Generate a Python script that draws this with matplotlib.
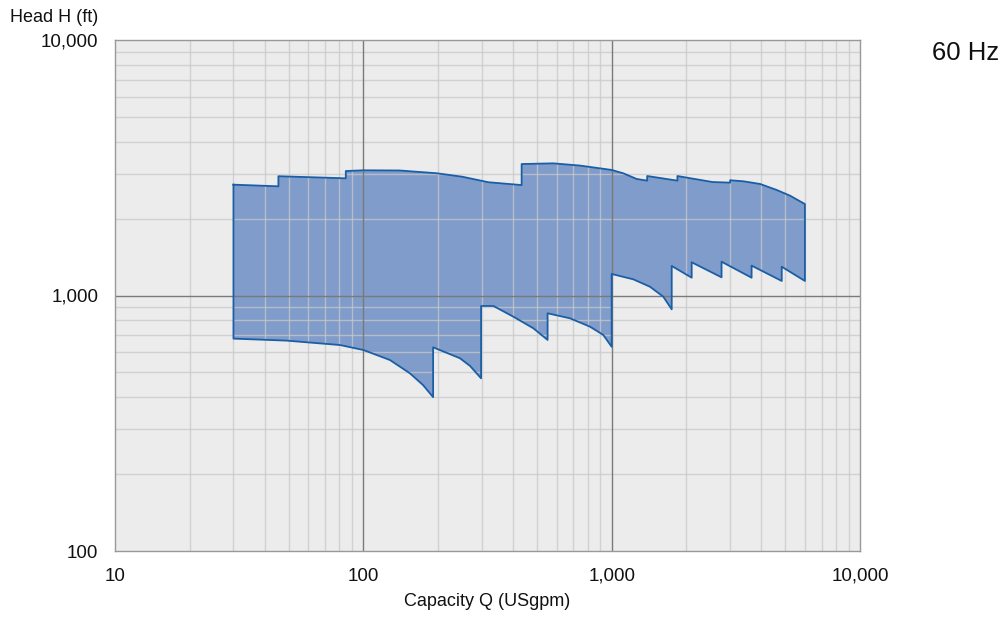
import matplotlib
matplotlib.use("Agg")
import matplotlib.pyplot as plt
from matplotlib.ticker import FixedLocator, NullFormatter, FixedFormatter

plt.rcParams['font.family'] = ['Liberation Sans', 'DejaVu Sans']

# Upper boundary of the operating range (left -> right)
top_q = [30, 45.5, 45.5, 85, 85, 100, 140, 197, 250, 319, 434, 434, 582, 745, 1000, 1114, 1261, 1390, 1390,
         1840, 1840, 2550, 3000, 3000, 3390, 3960, 4620, 5230, 6000]
top_h = [2715, 2675, 2930, 2875, 3070, 3090, 3085, 3010, 2917, 2775, 2705, 3270, 3290, 3225, 3100, 3008, 2858,
         2815, 2935, 2815, 2935, 2780, 2765, 2825, 2799, 2732, 2588, 2458, 2280]

# Lower boundary of the operating range (right -> left)
bot_q = [6000, 4840, 4840, 3660, 3660, 2770, 2770, 2100, 2100, 1745, 1745, 1614, 1427, 1222, 1000, 1000,
         925, 818, 680, 552, 552, 484, 402, 334, 298, 298, 269, 245, 191, 191, 174, 154, 128, 100, 80.5, 49, 30]
bot_h = [1140, 1296, 1140, 1309, 1174, 1356, 1178, 1349, 1174, 1305, 883, 989, 1082, 1157, 1214, 630,
         701, 755, 814, 852, 670, 744, 826, 910, 910, 474, 530, 568, 627, 400, 446, 496, 559, 612, 640, 666, 678]

x_ticks = [10, 100, 1000, 10000]
x_labels = ["10", "100", "1,000", "10,000"]
y_ticks = [100, 1000, 10000]
y_labels = ["100", "1,000", "10,000"]

fig = plt.figure(figsize=(10.06, 6.17), dpi=100)
ax = fig.add_axes([115/1006, 1-551/617, (860-115)/1006, (551-40)/617])
ax.set_facecolor('#ececec')
ax.set_xscale('log')
ax.set_yscale('log')
ax.set_xlim(10, 10000)
ax.set_ylim(100, 10000)

poly_q = top_q + bot_q
poly_h = top_h + bot_h
ax.fill(poly_q, poly_h, facecolor='#809cca', edgecolor='none', zorder=1)

# grid
minor_x = [m * d for d in (10, 100, 1000) for m in range(2, 10)]
minor_y = [m * d for d in (100, 1000) for m in range(2, 10)]
for v in minor_x:
    ax.axvline(v, color='#c9c9c9', lw=1.0, alpha=0.75, zorder=2)
for v in minor_y:
    ax.axhline(v, color='#c9c9c9', lw=1.0, alpha=0.75, zorder=2)
for v in [100, 1000]:
    ax.axvline(v, color='#7a7a7a', lw=1.0, zorder=2)
ax.axhline(1000, color='#7a7a7a', lw=1.0, zorder=2)

ax.plot(poly_q + [poly_q[0]], poly_h + [poly_h[0]], color='#1a5ea6', lw=1.3, zorder=3)

ax.xaxis.set_major_locator(FixedLocator(x_ticks))
ax.xaxis.set_major_formatter(FixedFormatter(x_labels))
ax.yaxis.set_major_locator(FixedLocator(y_ticks))
ax.yaxis.set_major_formatter(FixedFormatter(y_labels))
ax.xaxis.set_minor_formatter(NullFormatter())
ax.yaxis.set_minor_formatter(NullFormatter())
ax.tick_params(which='both', length=0, labelsize=13.5, colors='#111111')
ax.tick_params(axis='x', pad=12)
ax.tick_params(axis='y', pad=12)

for s in ax.spines.values():
    s.set_color('#999999')
    s.set_linewidth(1.0)

ax.set_xlabel('Capacity Q (USgpm)', fontsize=13, labelpad=6, color='#111111')
fig.text(10/1006, 1-18/617, 'Head H (ft)', fontsize=13, ha='left', va='center', color='#111111')
fig.text(932/1006, 1-53/617, '60 Hz', fontsize=18.5, ha='left', va='center', color='#111111')

fig.savefig('out.png', dpi=100)
